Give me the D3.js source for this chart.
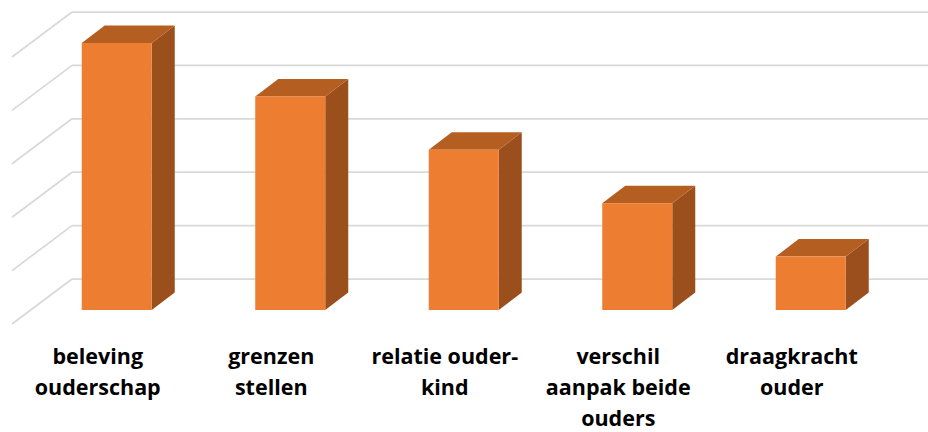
<!DOCTYPE html>
<html lang="nl">
<head>
    <meta charset="UTF-8">
    <title>3D kolomdiagram</title>
    <script src="https://d3js.org/d3.v7.min.js"></script>
    <style>
        body { margin: 0; background: #fff; }
        .grid { stroke: #d9d9d9; stroke-width: 1.75; fill: none; }
        .label { font-family: "Open Sans", sans-serif; font-weight: bold; font-size: 21.5px; fill: #000; text-anchor: middle; }
    </style>
</head>
<body>
    <div id="chart"></div>
    <script>
        const width = 928, height = 432;

        // data
        const categories = ["beleving ouderschap", "grenzen stellen", "relatie ouder-kind", "verschil aanpak beide ouders", "draagkracht ouder"];
        const labelLines = [["beleving", "ouderschap"], ["grenzen", "stellen"], ["relatie ouder-", "kind"], ["verschil", "aanpak beide", "ouders"], ["draagkracht", "ouder"]];
        const values = [5, 4, 3, 2, 1];
        const gridTicks = [0, 1, 2, 3, 4, 5];

        const svg = d3.select("#chart")
            .append("svg")
            .attr("width", width)
            .attr("height", height);

        const x = d3.scaleBand().domain(categories).range([30, 897.5]).paddingInner(0.5965).paddingOuter(0.5965 / 2);
        const y = d3.scaleLinear().domain([0, 5]).range([310, 43]);

        // depth of a bar (oblique projection) and offset of the back wall
        const depth = { dx: 23, dy: -17.5 };
        const wallDy = -31;
        const wallLeft = 72, sideDx = -60, sideDy = 45;

        // gridlines on back wall + side wall
        const grid = svg.append("g");
        gridTicks.forEach(t => {
            const yy = y(t) + wallDy;
            grid.append("line").attr("class", "grid")
                .attr("x1", wallLeft).attr("x2", width)
                .attr("y1", yy).attr("y2", yy);
            grid.append("line").attr("class", "grid")
                .attr("x1", wallLeft).attr("x2", wallLeft + sideDx)
                .attr("y1", yy).attr("y2", yy + sideDy);
        });

        // bars
        const bars = svg.append("g").selectAll("g")
            .data(values.map((v, i) => ({ cat: categories[i], v })))
            .join("g");

        const bw = x.bandwidth();

        // side face
        bars.append("path")
            .attr("fill", "#9a4f1d")
            .attr("d", d => {
                const x1 = x(d.cat) + bw, y0 = y(0), y1 = y(d.v);
                return `M${x1},${y1} L${x1 + depth.dx},${y1 + depth.dy} L${x1 + depth.dx},${y0 + depth.dy} L${x1},${y0} Z`;
            });

        // top face
        bars.append("path")
            .attr("fill", "#b55e22")
            .attr("d", d => {
                const x0 = x(d.cat), x1 = x0 + bw, y1 = y(d.v);
                return `M${x0},${y1} L${x0 + depth.dx},${y1 + depth.dy} L${x1 + depth.dx},${y1 + depth.dy} L${x1},${y1} Z`;
            });

        // front face
        bars.append("rect")
            .attr("fill", "#ed7d31")
            .attr("x", d => x(d.cat))
            .attr("y", d => y(d.v))
            .attr("width", bw)
            .attr("height", d => y(0) - y(d.v));

        // category labels
        const labels = svg.append("g").selectAll("text")
            .data(categories)
            .join("text")
            .attr("class", "label")
            .attr("x", d => x(d) + bw / 2 - 19)
            .attr("y", 364);

        labels.selectAll("tspan")
            .data((d, i) => labelLines[i])
            .join("tspan")
            .attr("x", function () { return d3.select(this.parentNode).attr("x"); })
            .attr("y", (d, i) => 364 + i * 31)
            .text(d => d);
    </script>
</body>
</html>
